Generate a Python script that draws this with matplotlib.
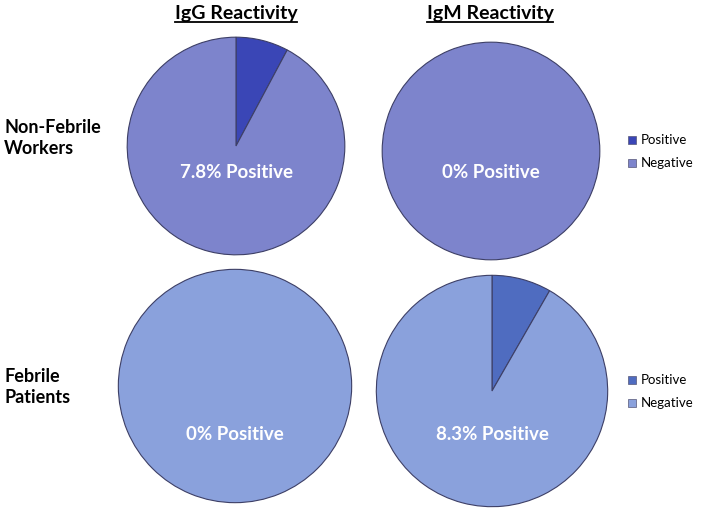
import numpy as np
import matplotlib.pyplot as plt

# data
titles = ['IgG Reactivity', 'IgM Reactivity']
groups = ['Non-Febrile\nWorkers', 'Febrile\nPatients']
legend_labels = ['Positive', 'Negative']
pct_positive = [[7.8, 0.0], [0.0, 8.3]]
center_labels = [['7.8% Positive', '0% Positive'], ['0% Positive', '8.3% Positive']]

row_colors = [('#3a46b6', '#7d84cc'), ('#4f6cc0', '#8aa1dc')]

W, H = 705, 515
fig = plt.figure(figsize=(W / 100, H / 100), dpi=100)
plt.rcParams['font.family'] = ['Lato', 'DejaVu Sans']

# pie centers and radii in pixels (x, y from top, r)
geom = [[(236, 146, 111), (491, 151, 111)],
        [(235, 386, 119), (492, 391, 118)]]
label_y = [173, 435]

for i in range(2):
    for j in range(2):
        cx, cy, r = geom[i][j]
        ax = fig.add_axes([(cx - r) / W, (H - cy - r) / H, 2 * r / W, 2 * r / H])
        p = pct_positive[i][j]
        vals = [p, 100 - p] if p > 0 else [100]
        cols = list(row_colors[i]) if p > 0 else [row_colors[i][1]]
        ax.pie(vals, colors=cols, startangle=90, counterclock=False, radius=1,
               wedgeprops=dict(edgecolor='#3d3f66', linewidth=0.8))
        ax.set_xlim(-1.02, 1.02)
        ax.set_ylim(-1.02, 1.02)
        ax.set_aspect('auto')
        ax.axis('off')
        fig.text(cx / W, 1 - label_y[i] / H, center_labels[i][j], color='white',
                 fontsize=13.5, fontweight='bold', ha='center', va='center')

# column titles
title_texts = []
for j, t in enumerate(titles):
    x = [236, 490][j]
    title_texts.append(fig.text(x / W, 1 - 14 / H, t, fontsize=14, fontweight='bold',
                                ha='center', va='center'))
# underline titles
fig.canvas.draw()
r = fig.canvas.get_renderer()
for t in title_texts:
    bb = t.get_window_extent(r)
    fig.add_artist(plt.Line2D([bb.x0 / W, bb.x1 / W], [(bb.y0 + 1) / H, (bb.y0 + 1) / H],
                              color='black', lw=1.3, transform=fig.transFigure))

# row labels
for i, g in enumerate(groups):
    y = [138, 387][i]
    fig.text(4 / W, 1 - y / H, g, fontsize=13, fontweight='bold', ha='left', va='center',
             linespacing=1.3)

# legends
for i in range(2):
    y0 = [140, 380][i]
    for k, lab in enumerate(legend_labels):
        yy = y0 + 23 * k
        fig.patches.append(plt.Rectangle((628 / W, 1 - (yy + 4) / H), 8 / W, 8 / H,
                                         facecolor=row_colors[i][k], edgecolor='#555577',
                                         lw=0.5, transform=fig.transFigure, figure=fig))
        fig.text(641 / W, 1 - yy / H, lab, fontsize=9.5, ha='left', va='center')

plt.savefig('out.png', dpi=100)
